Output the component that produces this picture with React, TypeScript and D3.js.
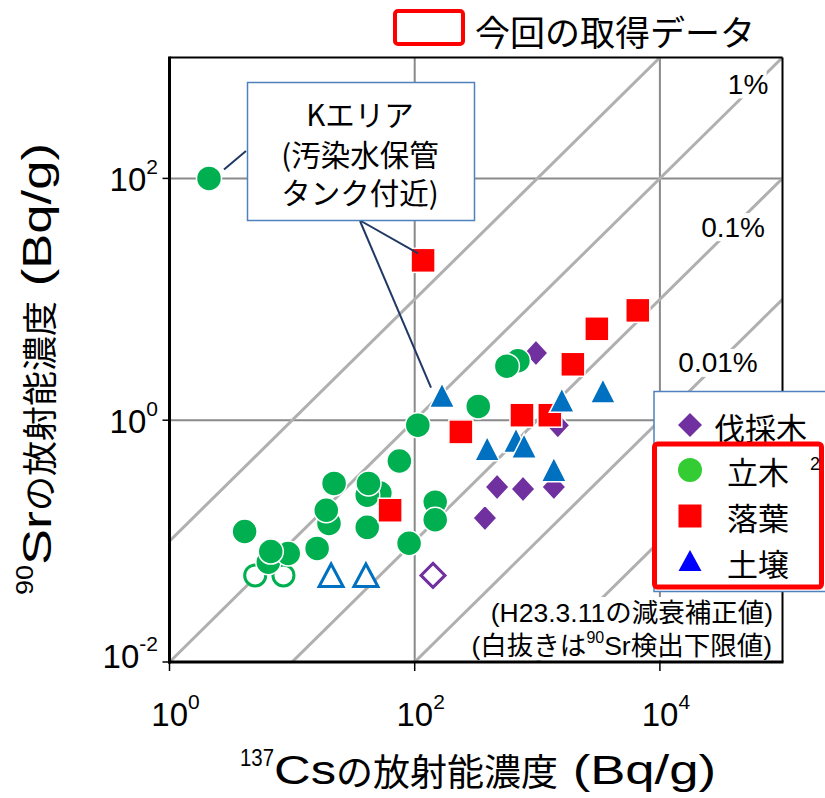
import React from 'react';
import * as d3 from 'd3';

// [137Cs (Bq/g), 90Sr (Bq/g)]
const felled = [[975, 3.6], [1470, 0.91], [470, 0.28], [765, 0.27], [1365, 0.28], [374, 0.155]];
const felledLimit = [[141, 0.052]];
const standing = [
  [2.1, 100], [16, 0.087], [6.4, 0.067], [9.3, 0.079], [6.7, 0.082], [4.1, 0.12],
  [20, 0.14], [19, 0.18], [41, 0.13], [52, 0.25], [41, 0.24], [42, 0.3], [22, 0.3],
  [90, 0.096], [75, 0.46], [106, 0.91], [147, 0.21], [147, 0.15], [330, 1.3], [695, 3.1], [565, 2.8],
];
const standingLimit = [[5.0, 0.052], [8.5, 0.052]];
const litter = [[117, 21], [63, 0.18], [238, 0.8], [750, 1.1], [1265, 1.1], [1950, 2.9], [3060, 5.7], [6600, 8.1]];
const soil = [[167, 1.6], [390, 0.58], [670, 0.68], [780, 0.61], [1365, 0.39], [1585, 1.46], [3430, 1.74]];
const soilLimit = [[20.8, 0.052], [40, 0.052]];

const ratioLines = [0.1, 0.01, 0.001, 0.0001, 0.00001];
const ratioLabels = [
  { ratio: 0.01, text: '1%', cs: 52400, dy: -7 },
  { ratio: 0.001, text: '0.1%', cs: 39500, dy: 0 },
  { ratio: 0.0001, text: '0.01%', cs: 29800, dy: 0 },
];
const xTicks = [1, 100, 10000];
const xTickExp = ['0', '2', '4'];
const yTicks = [0.01, 1, 100];
const yTickExp = ['-2', '0', '2'];
const gridX = [100, 10000];
const gridY = [1, 100];

const legendItems = ['立木', '落葉', '土壌'];

const FONT = "'Liberation Sans', Arial, 'Noto Sans CJK JP', sans-serif";
const CJK = "'Noto Sans CJK JP', 'Liberation Sans', sans-serif";

const C_GREEN = '#00B050';
const C_RED = '#FF0000';
const C_BLUE = '#0070C0';
const C_PURPLE = '#7030A0';

const TRI = 'M0,-12.5 L12.5,12 L-12.5,12 Z';
const TRI_H = 'M0,-11.5 L12,11 L-12,11 Z';
const DIA = 'M0,-13 L12,0 L0,13 L-12,0 Z';
const DIA_H = 'M0,-12 L12,0 L0,12 L-12,0 Z';

export default function App() {
  const x = d3.scaleLog().domain([1, 1e5]).range([169.5, 782.5]);
  const y = d3.scaleLog().domain([1e-2, 1e3]).range([662, 57.5]);
  const [x0, x1] = x.range();
  const [y0, y1] = y.range();

  const kPoint = standing[0];
  const kLitter = litter[0];
  const kSoil = soil[0];
  const boxBottom = [361, 221];

  return (
    <svg width={825} height={798} style={{ position: 'absolute', left: 0, top: 0, background: '#fff' }} fontFamily={FONT}>
      <defs>
        <clipPath id="plot">
          <rect x={x0} y={y1} width={x1 - x0} height={y0 - y1} />
        </clipPath>
      </defs>
      <rect width={825} height={798} fill="#fff" />

      {/* grid */}
      {gridY.map((v) => (
        <line key={'gy' + v} x1={x0} x2={x1} y1={y(v)} y2={y(v)} stroke="#8a8a8a" strokeWidth={2} />
      ))}
      {gridX.map((v) => (
        <line key={'gx' + v} x1={x(v)} x2={x(v)} y1={y0} y2={y1} stroke="#8a8a8a" strokeWidth={2} />
      ))}

      {/* ratio lines */}
      <g clipPath="url(#plot)">
        {ratioLines.map((r) => (
          <line key={'r' + r} x1={x(1)} y1={y(r)} x2={x(1e5)} y2={y(r * 1e5)} stroke="#b0b0b0" strokeWidth={3} />
        ))}
      </g>
      {ratioLabels.map((l) => {
        const cx = x(l.cs);
        const cy = y(l.cs * l.ratio) + l.dy;
        const w = l.text.length * 15.5 + 6;
        return (
          <g key={l.text}>
            <rect x={cx - w / 2} y={cy - 14} width={w} height={28} fill="#fff" />
            <text x={cx} y={cy} textAnchor="middle" dominantBaseline="central" fontSize={28} fill="#000">{l.text}</text>
          </g>
        );
      })}

      {/* frame */}
      <line x1={x0} x2={x1} y1={y1} y2={y1} stroke="#000" strokeWidth={2} />
      <line x1={x1} x2={x1} y1={y1} y2={y0} stroke="#000" strokeWidth={2} />
      <line x1={x0} x2={x0} y1={y1 - 1} y2={y0 + 1.5} stroke="#000" strokeWidth={3} />
      <line x1={x0 - 1.5} x2={x1 + 1} y1={y0} y2={y0} stroke="#000" strokeWidth={3} />
      {xTicks.map((v) => (
        <line key={'xt' + v} x1={x(v)} x2={x(v)} y1={y0} y2={y0 + 9} stroke="#000" strokeWidth={1.5} />
      ))}
      {yTicks.map((v) => (
        <line key={'yt' + v} x1={x0 - 7} x2={x0} y1={y(v)} y2={y(v)} stroke="#000" strokeWidth={1.5} />
      ))}

      {/* tick labels */}
      {xTicks.map((v, i) => (
        <text key={'xl' + v} x={x(v) + 6} y={714} textAnchor="middle" dominantBaseline="central" fontSize={33} fill="#000">
          10<tspan fontSize={21} dy={-13}>{xTickExp[i]}</tspan>
        </text>
      ))}
      {yTicks.map((v, i) => (
        <text key={'yl' + v} x={158} y={y(v) + (i === 0 ? -6 : 1)} textAnchor="end" dominantBaseline="central" fontSize={33} fill="#000">
          10<tspan fontSize={21} dy={-13}>{yTickExp[i]}</tspan>
        </text>
      ))}

      {/* axis titles */}
      <text x={240} y={770} textAnchor="start" dominantBaseline="central" fontSize={38} fill="#000">
        <tspan fontSize={24} dy={-13} textLength={34} lengthAdjust="spacingAndGlyphs">137</tspan>
        <tspan dy={13} fontSize={40} textLength={62} lengthAdjust="spacingAndGlyphs">Cs</tspan>
        <tspan fontFamily={CJK} fontSize={37}>の放射能濃度</tspan>
        <tspan fontSize={40} textLength={158} lengthAdjust="spacingAndGlyphs"> (Bq/g)</tspan>
      </text>
      <text transform="translate(37,595) rotate(-90)" textAnchor="start" dominantBaseline="central" fontSize={38} fill="#000">
        <tspan fontSize={24} dy={-13} textLength={30} lengthAdjust="spacingAndGlyphs">90</tspan>
        <tspan dy={13} fontSize={40} textLength={54} lengthAdjust="spacingAndGlyphs">Sr</tspan>
        <tspan fontFamily={CJK} fontSize={35}>の放射能濃度</tspan>
        <tspan fontSize={40} textLength={158} lengthAdjust="spacingAndGlyphs"> (Bq/g)</tspan>
      </text>

      {/* markers */}
      <g stroke="#fff" strokeWidth={1.5}>
        {felled.map((d, i) => (
          <path key={'f' + i} d={DIA} transform={`translate(${x(d[0])},${y(d[1])})`} fill={C_PURPLE} />
        ))}
        {felledLimit.map((d, i) => (
          <path key={'fl' + i} d={DIA_H} transform={`translate(${x(d[0])},${y(d[1])})`} fill="#fff" stroke={C_PURPLE} strokeWidth={3} />
        ))}
        {standingLimit.map((d, i) => (
          <circle key={'sl' + i} cx={x(d[0])} cy={y(d[1])} r={10.5} fill="#fff" stroke={C_GREEN} strokeWidth={3} />
        ))}
        {standing.map((d, i) => (
          <circle key={'s' + i} cx={x(d[0])} cy={y(d[1])} r={12.5} fill={C_GREEN} />
        ))}
        {litter.map((d, i) => (
          <rect key={'l' + i} x={x(d[0]) - 12} y={y(d[1]) - 12} width={24} height={24} fill={C_RED} />
        ))}
        {soil.map((d, i) => (
          <path key={'so' + i} d={TRI} transform={`translate(${x(d[0])},${y(d[1])})`} fill={C_BLUE} />
        ))}
        {soilLimit.map((d, i) => (
          <path key={'sol' + i} d={TRI_H} transform={`translate(${x(d[0])},${y(d[1])})`} fill="#fff" stroke={C_BLUE} strokeWidth={3} />
        ))}
      </g>

      {/* K area annotation */}
      <g stroke="#1F3864" strokeWidth={2}>
        <line x1={x(kPoint[0]) + 15} y1={y(kPoint[1]) - 9} x2={246} y2={151} />
        <line x1={boxBottom[0]} y1={boxBottom[1]} x2={x(kLitter[0]) - 5} y2={y(kLitter[1]) - 7} />
        <line x1={boxBottom[0] - 1} y1={boxBottom[1]} x2={x(kSoil[0]) - 11} y2={y(kSoil[1]) - 8} />
      </g>
      <rect x={247.5} y={82.5} width={227} height={138} fill="#fff" stroke="#4F81BD" strokeWidth={1.5} />
      <g fontFamily={CJK} fontSize={29.5} textAnchor="middle" fill="#000">
        <text x={360} y={113} dominantBaseline="central">Kエリア</text>
        <text x={360} y={153} dominantBaseline="central">(汚染水保管</text>
        <text x={360} y={191} dominantBaseline="central">タンク付近)</text>
      </g>

      {/* notes */}
      <rect x={484} y={597} width={292} height={63} fill="#fff" />
      <text x={773} y={613} textAnchor="end" dominantBaseline="central" fontSize={26.5} fill="#000">(H23.3.11の減衰補正値)</text>
      <text x={772} y={646} textAnchor="end" dominantBaseline="central" fontSize={26.5} fill="#000">
        (白抜きは<tspan fontSize={16} dy={-9}>90</tspan><tspan dy={9}>Sr検出下限値)</tspan>
      </text>

      {/* top legend */}
      <rect x={395} y={11} width={68} height={33} rx={3} fill="#fff" stroke={C_RED} strokeWidth={4} />
      <text x={475} y={30} dominantBaseline="central" fontFamily={CJK} fontSize={35} fill="#000">今回の取得データ</text>

      {/* right legend */}
      <rect x={654} y={391.5} width={185} height={200} fill="#fff" stroke="#4F81BD" strokeWidth={1.5} />
      <path d="M0,-12 L12,0 L0,12 L-12,0 Z" transform="translate(690,425)" fill={C_PURPLE} />
      <text x={714} y={426} dominantBaseline="central" fontFamily={CJK} fontSize={31} fill="#000">伐採木</text>
      <rect x={654.5} y={444} width={167} height={143} rx={3} fill="#fff" stroke={C_RED} strokeWidth={5} />
      <circle cx={690} cy={470} r={12} fill="#33CC33" />
      <rect x={678.5} y={504.5} width={23} height={23} fill={C_RED} />
      <path d="M0,-11 L11.5,10 L-11.5,10 Z" transform="translate(690,561)" fill="#0000FF" />
      {legendItems.map((t, i) => (
        <text key={t} x={727} y={470 + i * 46} dominantBaseline="central" fontFamily={CJK} fontSize={31} fill="#000">{t}</text>
      ))}
      <text x={815} y={464} textAnchor="middle" dominantBaseline="central" fontSize={18} fill="#000">2</text>
    </svg>
  );
}
